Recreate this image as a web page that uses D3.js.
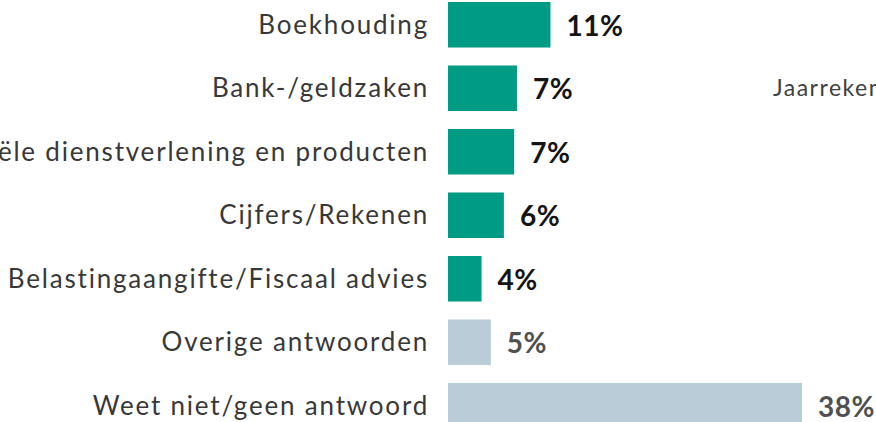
<!DOCTYPE html>
<html>
<head>
<meta charset="utf-8">
<script src="https://cdn.jsdelivr.net/npm/d3@7"></script>
<style>
  html, body { margin: 0; padding: 0; background: #fff; overflow: hidden; }
  svg { display: block; }
  text { font-variant-ligatures: none; }
</style>
</head>
<body>
<figure id="bars" style="margin:0"></figure>
<script>
// categories, top to bottom
const categories = [
  "Boekhouding",
  "Bank-/geldzaken",
  "Financiële dienstverlening en producten",
  "Cijfers/Rekenen",
  "Belastingaangifte/Fiscaal advies",
  "Overige antwoorden",
  "Weet niet/geen antwoord"
];
// share of respondents (%)
const values = [11.0, 7.4, 7.1, 6.0, 3.6, 4.6, 38.0];
// which bars are the "rest" group (grey)
const isRest = [false, false, false, false, false, true, true];
// neighbouring chart label, cut off by the frame
const sideLabel = "Jaarrekening";

const width = 876;
const height = 422;

const svg = d3.select("figure#bars")
  .append("svg")
  .attr("width", width)
  .attr("height", height);

const x = d3.scaleLinear()
  .domain([0, 38])
  .range([448, 802]);

const y = d3.scaleBand()
  .domain(categories)
  .range([-7, 437.5])
  .paddingInner(0.283)
  .paddingOuter(0.1415);

const rows = categories.map((c, i) => ({ cat: c, value: values[i], rest: isRest[i] }));

// bars
svg.append("g")
  .selectAll("rect")
  .data(rows)
  .join("rect")
  .attr("x", x(0))
  .attr("y", d => y(d.cat))
  .attr("width", d => x(d.value) - x(0))
  .attr("height", y.bandwidth())
  .attr("fill", d => d.rest ? "#b9ccd8" : "#009b85");

// category labels
svg.append("g")
  .selectAll("text")
  .data(rows)
  .join("text")
  .attr("x", x(0) - 19)
  .attr("y", d => y(d.cat) + y.bandwidth() / 2)
  .attr("dy", "0.35em")
  .attr("text-anchor", "end")
  .attr("font-family", "Lato, sans-serif")
  .attr("font-size", 26)
  .attr("letter-spacing", 1.8)
  .attr("fill", "#383838")
  .text(d => d.cat);

// value labels
svg.append("g")
  .selectAll("text")
  .data(rows)
  .join("text")
  .attr("x", d => x(d.value) + 16)
  .attr("y", d => y(d.cat) + y.bandwidth() / 2)
  .attr("dy", "0.4em")
  .attr("font-family", "Lato, sans-serif")
  .attr("font-weight", "bold")
  .attr("font-size", 28)
  .attr("letter-spacing", 0.5)
  .attr("fill", d => d.rest ? "#505050" : "#151515")
  .text(d => Math.round(d.value) + "%");

svg.append("text")
  .attr("x", 773)
  .attr("y", y(categories[1]) + y.bandwidth() / 2)
  .attr("dy", "0.35em")
  .attr("font-family", "Lato, sans-serif")
  .attr("font-size", 23)
  .attr("letter-spacing", 1.5)
  .attr("fill", "#404040")
  .text(sideLabel);
</script>
</body>
</html>
